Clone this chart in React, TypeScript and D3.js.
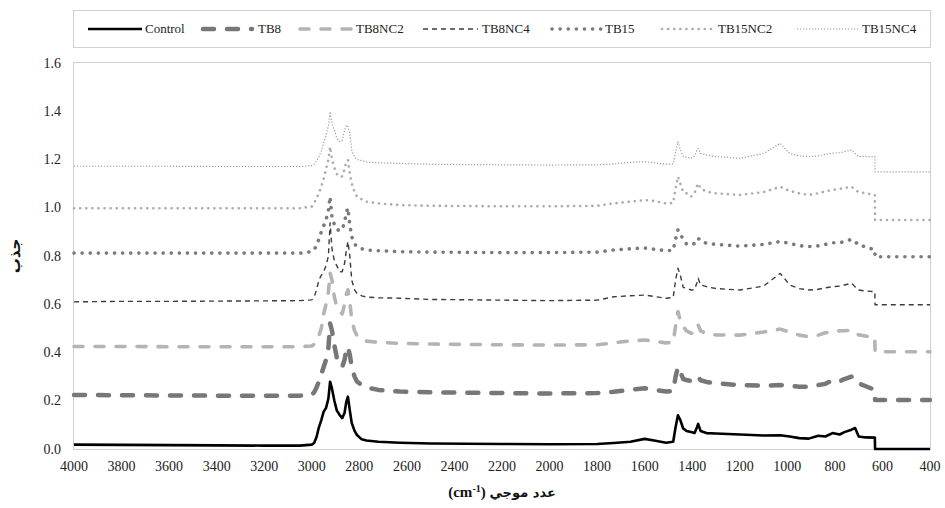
import React from "react";
import * as d3 from "d3";

const wavenumbers = [4000, 3800, 3600, 3400, 3200, 3050, 3000, 2990, 2980, 2970, 2960, 2950, 2940, 2930, 2923, 2915, 2905, 2895, 2882, 2872, 2862, 2855, 2848, 2840, 2832, 2820, 2810, 2790, 2770, 2720, 2630, 2500, 2200, 2000, 1800, 1730, 1660, 1600, 1560, 1510, 1480, 1470, 1460, 1450, 1438, 1424, 1405, 1390, 1380, 1375, 1365, 1340, 1300, 1200, 1100, 1030, 990, 950, 910, 870, 840, 810, 780, 760, 730, 715, 700, 670, 632, 631, 400];

const control = [0.018, 0.017, 0.016, 0.015, 0.014, 0.014, 0.018, 0.025, 0.05, 0.09, 0.12, 0.155, 0.17, 0.21, 0.279, 0.25, 0.2, 0.16, 0.14, 0.128, 0.15, 0.195, 0.217, 0.16, 0.108, 0.075, 0.058, 0.04, 0.035, 0.03, 0.026, 0.023, 0.021, 0.02, 0.021, 0.025, 0.03, 0.042, 0.035, 0.026, 0.03, 0.09, 0.14, 0.12, 0.085, 0.075, 0.07, 0.066, 0.09, 0.104, 0.075, 0.066, 0.064, 0.06, 0.056, 0.057, 0.052, 0.045, 0.043, 0.055, 0.052, 0.066, 0.06, 0.07, 0.08, 0.087, 0.052, 0.048, 0.047, 0, 0];

const tb8 = [0.224, 0.223, 0.222, 0.221, 0.221, 0.221, 0.224, 0.235, 0.255, 0.28, 0.31, 0.34, 0.37, 0.42, 0.52, 0.49, 0.43, 0.38, 0.35, 0.34, 0.37, 0.41, 0.424, 0.39, 0.34, 0.3, 0.28, 0.265, 0.255, 0.245, 0.238, 0.235, 0.232, 0.23, 0.232, 0.237, 0.245, 0.252, 0.245, 0.238, 0.24, 0.3, 0.34, 0.32, 0.29, 0.286, 0.282, 0.285, 0.295, 0.3, 0.285, 0.278, 0.272, 0.265, 0.262, 0.265, 0.263, 0.258, 0.258, 0.265, 0.27, 0.285, 0.28, 0.29, 0.3, 0.295, 0.272, 0.26, 0.245, 0.203, 0.203];

const tb8nc2 = [0.425, 0.425, 0.424, 0.424, 0.424, 0.424, 0.427, 0.435, 0.45, 0.47, 0.5, 0.56, 0.6, 0.65, 0.73, 0.7, 0.63, 0.59, 0.57, 0.56, 0.6, 0.64, 0.66, 0.61, 0.535, 0.49, 0.47, 0.455, 0.447, 0.442, 0.438, 0.435, 0.432, 0.431, 0.432, 0.44, 0.448, 0.452, 0.447, 0.44, 0.442, 0.51, 0.57, 0.53, 0.507, 0.49, 0.48, 0.48, 0.5, 0.514, 0.49, 0.478, 0.473, 0.472, 0.485, 0.497, 0.485, 0.472, 0.466, 0.472, 0.482, 0.485, 0.49, 0.49, 0.493, 0.486, 0.473, 0.468, 0.464, 0.403, 0.403];

const tb8nc4 = [0.61, 0.612, 0.612, 0.613, 0.614, 0.615, 0.618, 0.63, 0.66, 0.7, 0.72, 0.735, 0.76, 0.8, 0.937, 0.83, 0.78, 0.76, 0.735, 0.735, 0.77, 0.82, 0.86, 0.8, 0.7, 0.66, 0.645, 0.635, 0.63, 0.627, 0.625, 0.62, 0.617, 0.615, 0.617, 0.631, 0.635, 0.638, 0.632, 0.625, 0.628, 0.7, 0.749, 0.72, 0.67, 0.666, 0.659, 0.66, 0.69, 0.708, 0.68, 0.673, 0.665, 0.659, 0.675, 0.728, 0.68, 0.665, 0.659, 0.662, 0.668, 0.673, 0.675, 0.68, 0.687, 0.672, 0.659, 0.655, 0.652, 0.598, 0.598];

const tb15 = [0.812, 0.812, 0.812, 0.812, 0.812, 0.812, 0.818, 0.825, 0.845, 0.87, 0.9, 0.925, 0.95, 0.99, 1.046, 0.96, 0.93, 0.91, 0.905, 0.91, 0.94, 0.98, 0.999, 0.93, 0.88, 0.85, 0.839, 0.83, 0.825, 0.822, 0.818, 0.816, 0.814, 0.814, 0.816, 0.825, 0.83, 0.833, 0.828, 0.822, 0.824, 0.87, 0.908, 0.89, 0.87, 0.85, 0.846, 0.852, 0.865, 0.874, 0.862, 0.853, 0.848, 0.841, 0.848, 0.86, 0.852, 0.843, 0.839, 0.842, 0.848, 0.855, 0.855, 0.86, 0.869, 0.86, 0.845, 0.838, 0.825, 0.797, 0.797];

const tb15nc2 = [0.998, 0.998, 0.998, 0.998, 0.998, 0.998, 1.005, 1.02, 1.04, 1.06, 1.087, 1.12, 1.16, 1.2, 1.253, 1.2, 1.165, 1.14, 1.128, 1.13, 1.16, 1.19, 1.198, 1.14, 1.1, 1.065, 1.046, 1.035, 1.025, 1.018, 1.011, 1.008, 1.006, 1.006, 1.008, 1.018, 1.025, 1.032, 1.028, 1.018, 1.02, 1.08, 1.129, 1.1, 1.065, 1.06, 1.046, 1.06, 1.09, 1.101, 1.08, 1.067, 1.06, 1.053, 1.065, 1.087, 1.07, 1.06, 1.053, 1.06, 1.068, 1.074, 1.078, 1.082, 1.087, 1.075, 1.065, 1.06, 1.053, 0.949, 0.949];

const tb15nc4 = [1.172, 1.172, 1.172, 1.171, 1.171, 1.171, 1.175, 1.18, 1.195, 1.212, 1.235, 1.27, 1.3, 1.34, 1.398, 1.35, 1.322, 1.29, 1.274, 1.28, 1.32, 1.343, 1.335, 1.309, 1.24, 1.21, 1.2, 1.195, 1.19, 1.186, 1.184, 1.18, 1.178, 1.177, 1.178, 1.182, 1.188, 1.191, 1.186, 1.18, 1.182, 1.23, 1.274, 1.24, 1.212, 1.21, 1.205, 1.215, 1.24, 1.246, 1.225, 1.219, 1.212, 1.205, 1.225, 1.267, 1.225, 1.215, 1.212, 1.215, 1.222, 1.226, 1.228, 1.232, 1.24, 1.225, 1.212, 1.212, 1.212, 1.149, 1.149];

const seriesNames = ["Control", "TB8", "TB8NC2", "TB8NC4", "TB15", "TB15NC2", "TB15NC4"];
const seriesValues = [control, tb8, tb8nc2, tb8nc4, tb15, tb15nc2, tb15nc4];

const xTicks = [4000, 3800, 3600, 3400, 3200, 3000, 2800, 2600, 2400, 2200, 2000, 1800, 1600, 1400, 1200, 1000, 800, 600, 400];
const yTicks = [0, 0.2, 0.4, 0.6, 0.8, 1.0, 1.2, 1.4, 1.6];

const styles = [
  { stroke: "#000000", width: 2.6, dash: "none", cap: "butt" },
  { stroke: "#777777", width: 4.5, dash: "11 13", cap: "round" },
  { stroke: "#b4b4b4", width: 3.6, dash: "9 12", cap: "round" },
  { stroke: "#3c3c3c", width: 1.4, dash: "5 4", cap: "butt" },
  { stroke: "#7a7a7a", width: 3.6, dash: "0.1 8", cap: "round" },
  { stroke: "#acacac", width: 2.6, dash: "0.1 6", cap: "round" },
  { stroke: "#9a9a9a", width: 1.2, dash: "1.2 1.8", cap: "butt" },
];

const legendPos = [
  { s0: 88, s1: 142, t: 145 },
  { s0: 203, s1: 252, t: 258 },
  { s0: 300, s1: 352, t: 356 },
  { s0: 423, s1: 478, t: 482 },
  { s0: 552, s1: 602, t: 605 },
  { s0: 662, s1: 714, t: 718 },
  { s0: 797, s1: 858, t: 862 },
];

const W = 945;
const H = 508;
const L = 74;
const R = 930;
const T = 63;
const B = 449;

const SERIF = "Liberation Serif";
const ARABIC = "DejaVu Sans";

export default function App() {
  const x = d3.scaleLinear().domain([4000, 400]).range([L, R]);
  const y = d3.scaleLinear().domain([0, 1.6]).range([B, T]);
  const line = d3
    .line<number>()
    .x((_, i) => x(wavenumbers[i]))
    .y((d) => y(d))
    .curve(d3.curveLinear);

  return (
    <svg
      width={W}
      height={H}
      style={{ position: "absolute", left: 0, top: 0, background: "#fff" }}
    >
      <rect x={0} y={0} width={W} height={H} fill="#fff" />
      <rect x={73.5} y={10.5} width={857} height={37} fill="#fff" stroke="#d0d0d0" strokeWidth={1} />
      {legendPos.map((p, i) => (
        <g key={seriesNames[i]}>
          <line
            x1={p.s0}
            x2={p.s1}
            y1={29}
            y2={29}
            stroke={styles[i].stroke}
            strokeWidth={styles[i].width}
            strokeDasharray={styles[i].dash}
            strokeLinecap={styles[i].cap as any}
          />
          <text x={p.t} y={33} fontSize={13} fill="#222" fontFamily={SERIF}>
            {seriesNames[i]}
          </text>
        </g>
      ))}
      <rect x={L - 0.5} y={T - 0.5} width={R - L + 1} height={B - T + 1} fill="none" stroke="#d0d0d0" strokeWidth={1} />
      {yTicks.map((t) => (
        <text key={t} x={61} y={y(t) + 4.5} fontSize={14} textAnchor="end" fill="#222" fontFamily={SERIF}>
          {t.toFixed(1)}
        </text>
      ))}
      {xTicks.map((t) => (
        <text key={t} x={x(t)} y={471} fontSize={14} textAnchor="middle" fill="#222" fontFamily={SERIF}>
          {t}
        </text>
      ))}
      {seriesValues.map((vals, i) => (
        <path
          key={seriesNames[i]}
          d={line(vals) || ""}
          fill="none"
          stroke={styles[i].stroke}
          strokeWidth={styles[i].width}
          strokeDasharray={styles[i].dash}
          strokeLinecap={styles[i].cap as any}
          strokeLinejoin="round"
        />
      ))}
      <text
        transform={`translate(20, ${(T + B) / 2}) rotate(-90)`}
        textAnchor="middle"
        fontSize={15}
        fontWeight="bold"
        fill="#111"
        fontFamily={ARABIC}
      >
        جذب
      </text>
      <text x={502} y={497} textAnchor="middle" fontSize={15} fontWeight="bold" fill="#111" fontFamily={SERIF}>
        <tspan>(cm</tspan>
        <tspan dy={-5} fontSize={10}>-1</tspan>
        <tspan dy={5}>) </tspan>
        <tspan fontFamily={ARABIC} fontSize={13}>عدد موجي</tspan>
      </text>
    </svg>
  );
}
